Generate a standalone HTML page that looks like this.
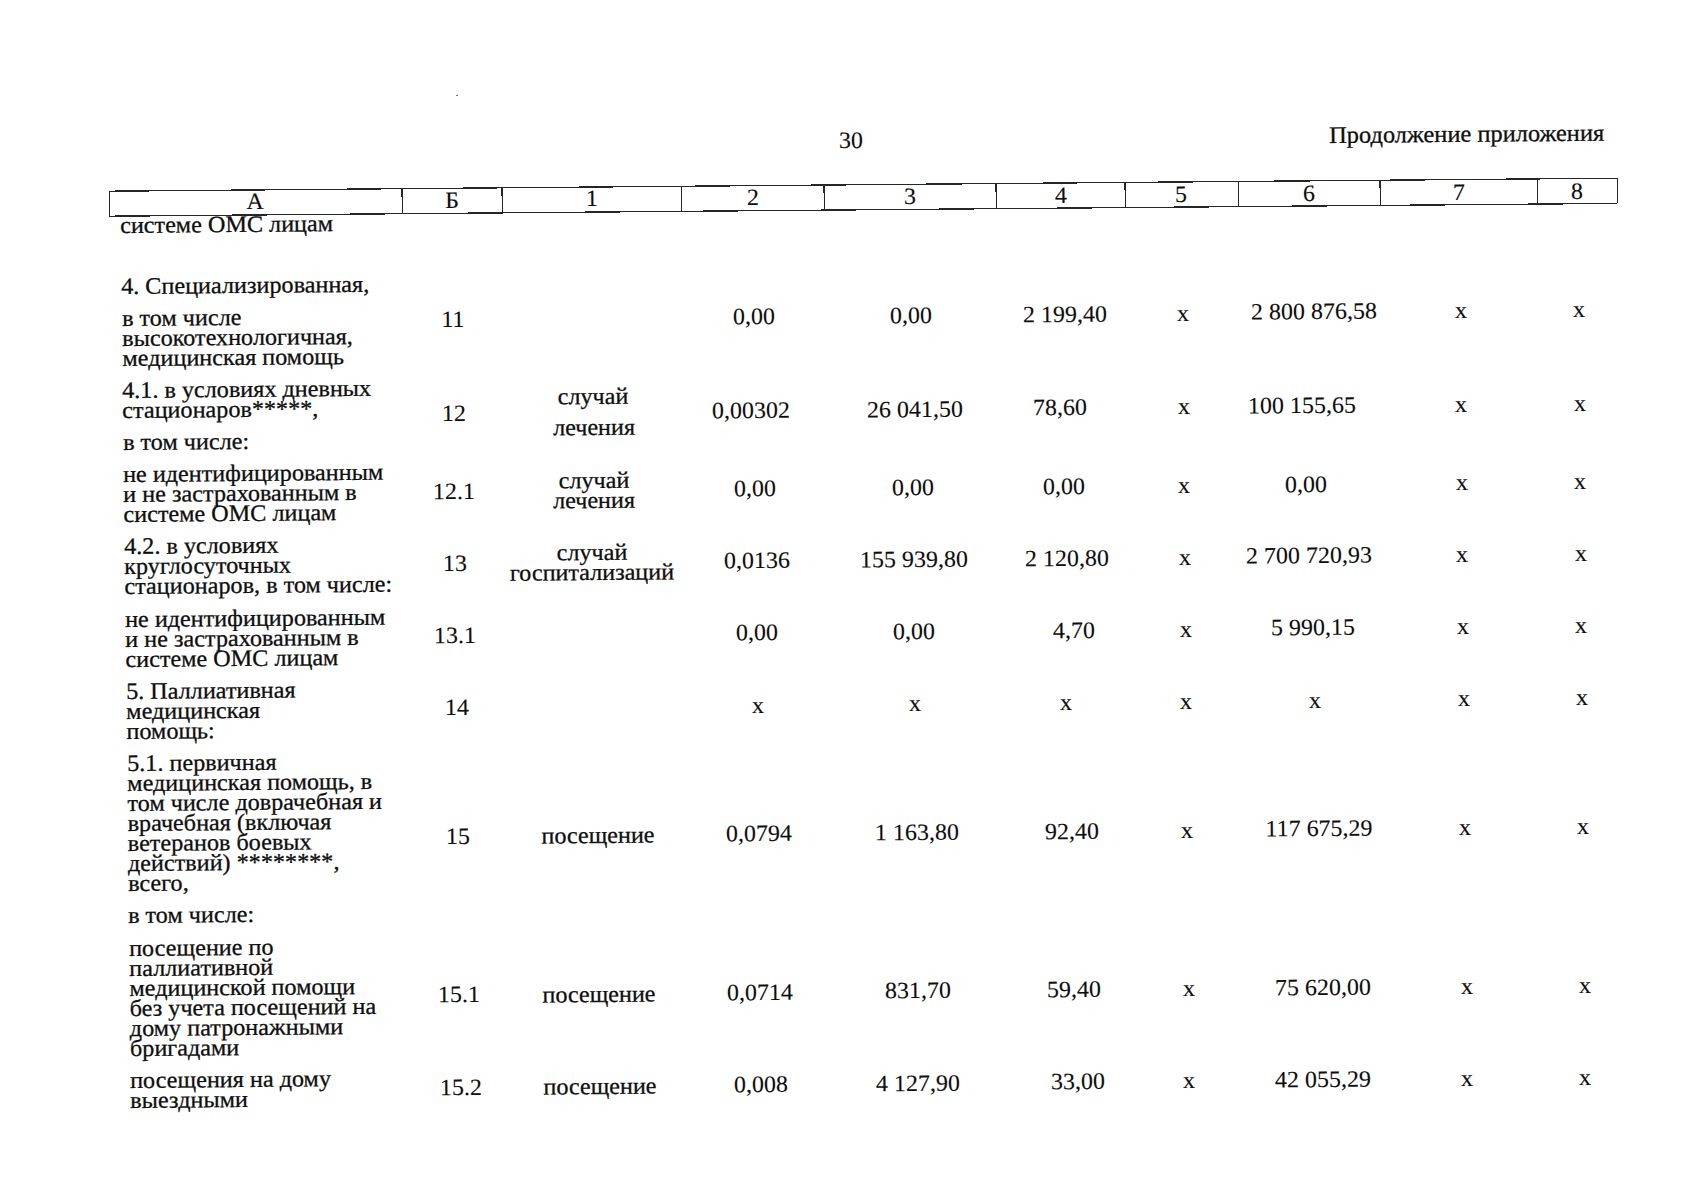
<!DOCTYPE html>
<html lang="ru"><head><meta charset="utf-8"><title>30</title>
<style>
html,body{margin:0;padding:0;background:#fff;}
body{width:1701px;height:1200px;position:relative;overflow:hidden;font-family:"Liberation Serif","Times New Roman",serif;font-size:23.4px;color:#0e0e0e;-webkit-text-stroke:0.12px #0e0e0e;}
.p{position:absolute;white-space:nowrap;-webkit-text-stroke:0.3px #0e0e0e;transform-origin:0 0;transform:rotate(-0.5deg) scaleX(1.0256);}
.c{position:absolute;white-space:nowrap;line-height:24px;transform:translateX(-50%) rotate(-0.5deg) scaleX(1.0256);}
.w{-webkit-text-stroke:0.3px #0e0e0e;}
svg{position:absolute;left:0;top:0;}
svg line{stroke:#262626;}
.dot{position:absolute;left:456px;top:95px;width:1.6px;height:1px;background:#777;}
</style></head><body>
<svg width="1701" height="1200" viewBox="0 0 1701 1200" shape-rendering="crispEdges"><line x1="109.40" y1="191.20" x2="1617.40" y2="178.20" stroke-width="1.3"/><line x1="109.40" y1="216.20" x2="1617.40" y2="203.40" stroke-width="1.3"/><line x1="109.40" y1="191.20" x2="109.40" y2="216.20" stroke-width="1.3"/><line x1="1617.40" y1="178.20" x2="1617.40" y2="203.40" stroke-width="1.3"/><line x1="402.00" y1="188.68" x2="402.20" y2="213.72" stroke-width="1.1"/><line x1="502.00" y1="187.82" x2="502.20" y2="212.87" stroke-width="1.1"/><line x1="681.25" y1="186.27" x2="681.45" y2="211.35" stroke-width="1.1"/><line x1="824.00" y1="185.04" x2="824.20" y2="210.13" stroke-width="1.1"/><line x1="996.00" y1="183.56" x2="996.20" y2="208.67" stroke-width="1.1"/><line x1="1125.00" y1="182.44" x2="1125.20" y2="207.58" stroke-width="1.1"/><line x1="1238.25" y1="181.47" x2="1238.45" y2="206.62" stroke-width="1.1"/><line x1="1380.00" y1="180.25" x2="1380.20" y2="205.42" stroke-width="1.1"/><line x1="1537.50" y1="178.89" x2="1537.70" y2="204.08" stroke-width="1.1"/></svg>
<div class="dot"></div>
<div class="c" style="left:851.00px;top:127.60px">30</div>
<div class="p" style="left:1328.80px;top:122.76px;line-height:24px;font-size:23.81px">Продолжение приложения</div>
<div class="p" style="left:120.33px;top:214.61px;line-height:20.06px;font-size:23.59px">системе ОМС лицам</div>
<div class="p" style="left:121.30px;top:275.51px;line-height:20.06px;font-size:23.59px">4. Специализированная,</div>
<div class="p" style="left:121.66px;top:307.61px;line-height:20.06px;font-size:23.59px">в том числе<br>высокотехнологичная,<br>медицинская помощь</div>
<div class="p" style="left:122.46px;top:379.83px;line-height:20.06px;font-size:23.59px">4.1. в условиях дневных<br>стационаров*****,</div>
<div class="p" style="left:123.03px;top:431.99px;line-height:20.06px;font-size:23.59px">в том числе:</div>
<div class="p" style="left:123.39px;top:464.09px;line-height:20.06px;font-size:23.59px">не идентифицированным<br>и не застрахованным в<br>системе ОМС лицам</div>
<div class="p" style="left:124.19px;top:536.31px;line-height:20.06px;font-size:23.59px">4.2. в условиях<br>круглосуточных<br>стационаров, в том числе:</div>
<div class="p" style="left:124.99px;top:608.53px;line-height:20.06px;font-size:23.59px">не идентифицированным<br>и не застрахованным в<br>системе ОМС лицам</div>
<div class="p" style="left:125.79px;top:680.75px;line-height:20.06px;font-size:23.59px">5. Паллиативная<br>медицинская<br>помощь:</div>
<div class="p" style="left:126.59px;top:752.97px;line-height:20.06px;font-size:23.59px">5.1. первичная<br>медицинская помощь, в<br>том числе доврачебная и<br>врачебная (включая<br>ветеранов боевых<br>действий) ********,<br>всего,</div>
<div class="p" style="left:128.27px;top:905.43px;line-height:20.06px;font-size:23.59px">в том числе:</div>
<div class="p" style="left:128.63px;top:937.53px;line-height:20.06px;font-size:23.59px">посещение по<br>паллиативной<br>медицинской помощи<br>без учета посещений на<br>дому патронажными<br>бригадами</div>
<div class="p" style="left:130.10px;top:1069.93px;line-height:20.06px;font-size:23.59px">посещения на дому<br>выездными</div>
<div class="c" style="left:255.30px;top:189.40px">А</div>
<div class="c" style="left:452.00px;top:187.50px">Б</div>
<div class="c" style="left:592.00px;top:186.25px">1</div>
<div class="c" style="left:752.75px;top:185.00px">2</div>
<div class="c" style="left:909.50px;top:183.75px">3</div>
<div class="c" style="left:1060.60px;top:183.00px">4</div>
<div class="c" style="left:1181.25px;top:181.75px">5</div>
<div class="c" style="left:1309.40px;top:180.50px">6</div>
<div class="c" style="left:1459.00px;top:179.75px">7</div>
<div class="c" style="left:1577.25px;top:178.50px">8</div>
<div class="c" style="left:452.50px;top:306.90px">11</div>
<div class="c" style="left:754.00px;top:304.28px">0,00</div>
<div class="c" style="left:911.20px;top:302.91px">0,00</div>
<div class="c" style="left:1064.70px;top:301.57px">2 199,40</div>
<div class="c" style="left:1183.00px;top:300.54px">х</div>
<div class="c" style="left:1313.70px;top:299.40px">2 800 876,58</div>
<div class="c" style="left:1460.60px;top:298.12px">х</div>
<div class="c" style="left:1578.50px;top:297.09px">х</div>
<div class="c" style="left:454.40px;top:400.74px">12</div>
<div class="c w" style="left:592.90px;top:383.80px;font-size:23.50px">случай</div>
<div class="c w" style="left:593.50px;top:415.19px;font-size:23.50px">лечения</div>
<div class="c" style="left:751.30px;top:398.15px">0,00302</div>
<div class="c" style="left:914.90px;top:396.73px">26 041,50</div>
<div class="c" style="left:1059.60px;top:395.47px">78,60</div>
<div class="c" style="left:1183.80px;top:394.38px">х</div>
<div class="c" style="left:1302.20px;top:393.35px">100 155,65</div>
<div class="c" style="left:1461.20px;top:391.97px">х</div>
<div class="c" style="left:1579.50px;top:390.94px">х</div>
<div class="c" style="left:453.75px;top:478.92px">12.1</div>
<div class="c w" style="left:593.70px;top:467.97px;font-size:23.50px">случай</div>
<div class="c w" style="left:594.00px;top:487.97px;font-size:23.50px">лечения</div>
<div class="c" style="left:755.40px;top:476.30px">0,00</div>
<div class="c" style="left:912.70px;top:474.92px">0,00</div>
<div class="c" style="left:1063.70px;top:473.61px">0,00</div>
<div class="c" style="left:1184.00px;top:472.56px">х</div>
<div class="c" style="left:1305.90px;top:471.50px">0,00</div>
<div class="c" style="left:1461.80px;top:470.14px">х</div>
<div class="c" style="left:1579.90px;top:469.11px">х</div>
<div class="c" style="left:455.25px;top:550.85px">13</div>
<div class="c w" style="left:591.60px;top:539.93px;font-size:23.50px">случай</div>
<div class="c w" style="left:591.60px;top:559.93px;font-size:23.50px">госпитализаций</div>
<div class="c" style="left:756.50px;top:548.23px">0,0136</div>
<div class="c" style="left:913.70px;top:546.86px">155 939,80</div>
<div class="c" style="left:1066.60px;top:545.53px">2 120,80</div>
<div class="c" style="left:1184.90px;top:544.50px">х</div>
<div class="c" style="left:1308.50px;top:543.42px">2 700 720,93</div>
<div class="c" style="left:1462.40px;top:542.08px">х</div>
<div class="c" style="left:1580.50px;top:541.05px">х</div>
<div class="c" style="left:455.00px;top:622.90px">13.1</div>
<div class="c" style="left:756.90px;top:620.27px">0,00</div>
<div class="c" style="left:914.20px;top:618.90px">0,00</div>
<div class="c" style="left:1074.00px;top:617.51px">4,70</div>
<div class="c" style="left:1185.90px;top:616.53px">х</div>
<div class="c" style="left:1313.10px;top:615.42px">5 990,15</div>
<div class="c" style="left:1463.30px;top:614.11px">х</div>
<div class="c" style="left:1581.00px;top:613.09px">х</div>
<div class="c" style="left:456.75px;top:695.27px">14</div>
<div class="c" style="left:757.80px;top:692.65px">х</div>
<div class="c" style="left:915.20px;top:691.27px">х</div>
<div class="c" style="left:1065.50px;top:689.97px">х</div>
<div class="c" style="left:1186.30px;top:688.91px">х</div>
<div class="c" style="left:1314.50px;top:687.80px">х</div>
<div class="c" style="left:1463.90px;top:686.49px">х</div>
<div class="c" style="left:1582.00px;top:685.46px">х</div>
<div class="c" style="left:458.10px;top:823.87px">15</div>
<div class="c w" style="left:597.70px;top:823.12px;font-size:23.50px">посещение</div>
<div class="c" style="left:759.00px;top:821.24px">0,0794</div>
<div class="c" style="left:916.80px;top:819.87px">1 163,80</div>
<div class="c" style="left:1072.30px;top:818.52px">92,40</div>
<div class="c" style="left:1187.30px;top:817.51px">х</div>
<div class="c" style="left:1318.80px;top:816.37px">117 675,29</div>
<div class="c" style="left:1464.90px;top:815.09px">х</div>
<div class="c" style="left:1583.30px;top:814.06px">х</div>
<div class="c" style="left:458.75px;top:982.36px">15.1</div>
<div class="c w" style="left:599.20px;top:981.60px;font-size:23.50px">посещение</div>
<div class="c" style="left:760.10px;top:979.73px">0,0714</div>
<div class="c" style="left:917.70px;top:978.36px">831,70</div>
<div class="c" style="left:1074.00px;top:977.00px">59,40</div>
<div class="c" style="left:1189.00px;top:976.00px">х</div>
<div class="c" style="left:1322.90px;top:974.83px">75 620,00</div>
<div class="c" style="left:1466.80px;top:973.57px">х</div>
<div class="c" style="left:1584.90px;top:972.55px">х</div>
<div class="c" style="left:461.00px;top:1074.81px">15.2</div>
<div class="c w" style="left:600.00px;top:1074.07px;font-size:23.50px">посещение</div>
<div class="c" style="left:761.00px;top:1072.20px">0,008</div>
<div class="c" style="left:918.10px;top:1070.83px">4 127,90</div>
<div class="c" style="left:1077.50px;top:1069.44px">33,00</div>
<div class="c" style="left:1189.40px;top:1068.47px">х</div>
<div class="c" style="left:1323.30px;top:1067.30px">42 055,29</div>
<div class="c" style="left:1467.00px;top:1066.05px">х</div>
<div class="c" style="left:1585.30px;top:1065.02px">х</div>
</body></html>
